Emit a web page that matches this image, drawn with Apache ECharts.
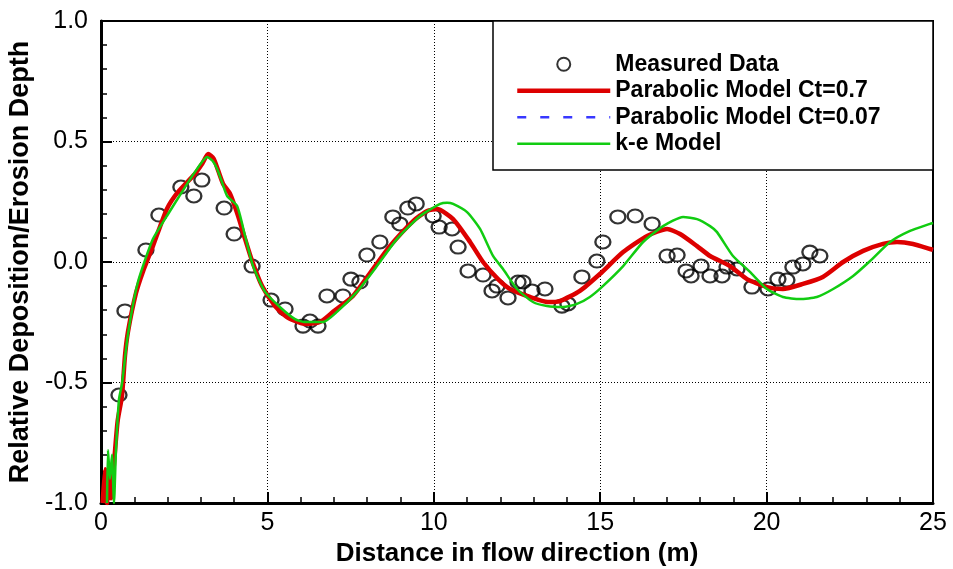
<!DOCTYPE html>
<html>
<head>
<meta charset="utf-8">
<script src="https://cdn.jsdelivr.net/npm/echarts@6/dist/echarts.min.js"></script>
<style>
  html, body { margin: 0; padding: 0; background: #fff; }
  #chart { width: 953px; height: 569px; }
</style>
</head>
<body>
<div id="chart"></div>
<script>
// Measured bed change along the flume: [distance (m), relative depth]
const measuredData = [
  [0.54, -0.552], [0.72, -0.203], [1.35, 0.050], [1.74, 0.195], [2.40, 0.311],
  [2.79, 0.274], [3.03, 0.340], [3.70, 0.224], [4.00, 0.116], [4.54, -0.017],
  [5.11, -0.158], [5.53, -0.195], [6.07, -0.266], [6.28, -0.245], [6.52, -0.266],
  [6.79, -0.141], [7.27, -0.141], [7.51, -0.071], [7.78, -0.083], [7.99, 0.029],
  [8.38, 0.083], [8.77, 0.187], [8.98, 0.158], [9.22, 0.224], [9.47, 0.241],
  [9.98, 0.191], [10.16, 0.145], [10.55, 0.137], [10.73, 0.062], [11.03, -0.037],
  [11.48, -0.054], [11.75, -0.120], [11.90, -0.100], [12.23, -0.149], [12.53, -0.083],
  [12.68, -0.083], [12.95, -0.120], [13.34, -0.112], [13.85, -0.183], [14.03, -0.174],
  [14.45, -0.062], [14.90, 0.004], [15.08, 0.083], [15.53, 0.187], [16.05, 0.191],
  [16.56, 0.158], [17.01, 0.025], [17.31, 0.029], [17.58, -0.037], [17.73, -0.058],
  [18.03, -0.017], [18.30, -0.058], [18.66, -0.058], [18.81, -0.021], [19.11, -0.029],
  [19.56, -0.104], [20.04, -0.112], [20.34, -0.071], [20.61, -0.075], [20.79, -0.021],
  [21.09, -0.008], [21.30, 0.041], [21.60, 0.025]
];

// Parabolic eddy-viscosity model, Ct = 0.7
const parabolic07 = [
  [0.05, -1.0], [0.12, -0.86], [0.18, -1.0], [0.24, -0.87], [0.30, -0.98],
  [0.40, -0.82], [0.50, -0.66], [0.63, -0.556], [0.72, -0.39], [0.81, -0.29],
  [1.05, -0.13], [1.26, -0.04], [1.56, 0.066], [1.98, 0.22], [2.31, 0.29],
  [2.82, 0.365], [3.05, 0.41], [3.22, 0.448], [3.38, 0.43], [3.52, 0.38],
  [3.67, 0.324], [3.88, 0.282], [4.12, 0.191], [4.33, 0.095], [4.54, 0.004],
  [4.84, -0.10], [5.23, -0.183], [5.55, -0.225], [5.83, -0.245], [6.10, -0.257],
  [6.58, -0.249], [6.97, -0.207], [7.57, -0.141], [8.17, -0.029], [8.68, 0.066],
  [9.38, 0.170], [9.80, 0.212], [10.10, 0.220], [10.58, 0.178], [11.09, 0.083],
  [11.48, 0.0], [11.93, -0.071], [12.29, -0.112], [12.89, -0.145], [13.43, -0.166],
  [13.79, -0.162], [14.39, -0.120], [14.99, -0.050], [15.69, 0.041], [16.41, 0.108],
  [17.01, 0.137], [17.40, 0.116], [17.91, 0.066], [18.30, 0.025], [18.90, -0.017],
  [19.41, -0.071], [20.01, -0.104], [20.49, -0.112], [21.09, -0.091], [21.69, -0.062],
  [22.30, 0.0], [22.90, 0.046], [23.50, 0.075], [23.92, 0.083], [24.40, 0.075],
  [24.91, 0.054], [25.00, 0.050]
];

// Parabolic eddy-viscosity model, Ct = 0.07 (practically on top of Ct = 0.7)
const parabolic007 = [
  [0.05, -1.0], [0.12, -0.87], [0.18, -1.0], [0.24, -0.88], [0.30, -0.98],
  [0.40, -0.83], [0.50, -0.67], [0.63, -0.556], [0.72, -0.39], [0.81, -0.29],
  [1.05, -0.13], [1.26, -0.04], [1.56, 0.066], [1.98, 0.22], [2.31, 0.29],
  [2.82, 0.365], [3.05, 0.41], [3.22, 0.446], [3.38, 0.43], [3.52, 0.38],
  [3.67, 0.324], [3.88, 0.282], [4.12, 0.191], [4.33, 0.095], [4.54, 0.004],
  [4.84, -0.10], [5.23, -0.183], [5.55, -0.225], [5.83, -0.245], [6.10, -0.257],
  [6.58, -0.249], [6.97, -0.207], [7.57, -0.141], [8.17, -0.029], [8.68, 0.066],
  [9.38, 0.170], [9.80, 0.212], [10.10, 0.220], [10.58, 0.178], [11.09, 0.083],
  [11.48, 0.0], [11.93, -0.071], [12.29, -0.112], [12.89, -0.145], [13.43, -0.166],
  [13.79, -0.162], [14.39, -0.120], [14.99, -0.050], [15.69, 0.041], [16.41, 0.108],
  [17.01, 0.137], [17.40, 0.116], [17.91, 0.066], [18.30, 0.025], [18.90, -0.017],
  [19.41, -0.071], [20.01, -0.104], [20.49, -0.112], [21.09, -0.091], [21.69, -0.062],
  [22.30, 0.0], [22.90, 0.046], [23.50, 0.075], [23.92, 0.083], [24.40, 0.075],
  [24.91, 0.054], [25.00, 0.050]
];

// k-epsilon turbulence model
const keModel = [
  [0.18, -1.0], [0.21, -0.78], [0.27, -0.90], [0.33, -0.80], [0.39, -1.0],
  [0.45, -0.78], [0.54, -0.57], [0.63, -0.506], [0.81, -0.30], [1.11, -0.083],
  [1.56, 0.095], [1.98, 0.191], [2.43, 0.29], [2.82, 0.373], [3.19, 0.436],
  [3.35, 0.42], [3.49, 0.386], [3.64, 0.33], [3.79, 0.274], [4.09, 0.232],
  [4.33, 0.108], [4.57, -0.017], [4.93, -0.124], [5.44, -0.195], [5.83, -0.237],
  [6.10, -0.249], [6.67, -0.249], [7.09, -0.207], [7.69, -0.124], [8.29, -0.017],
  [8.89, 0.095], [9.59, 0.191], [10.19, 0.241], [10.40, 0.246], [10.58, 0.241],
  [11.00, 0.207], [11.39, 0.137], [11.78, 0.025], [12.08, -0.029], [12.50, -0.112],
  [12.98, -0.166], [13.40, -0.183], [13.88, -0.187], [14.30, -0.174], [14.69, -0.145],
  [15.08, -0.100], [15.69, -0.017], [16.29, 0.083], [16.89, 0.149], [17.49, 0.187],
  [17.91, 0.178], [18.30, 0.149], [18.51, 0.124], [18.99, 0.025], [19.50, -0.041],
  [20.01, -0.112], [20.49, -0.145], [21.00, -0.154], [21.51, -0.145], [22.00, -0.112],
  [22.60, -0.058], [23.11, 0.004], [23.71, 0.083], [24.31, 0.129], [24.91, 0.158],
  [25.00, 0.162]
];

const xTicks = { min: 0, max: 25, step: 5 };
const yTicks = { min: -1, max: 1, step: 0.5 };
const seriesNames = ['Measured Data', 'Parabolic Model Ct=0.7', 'Parabolic Model Ct=0.07', 'k-e Model'];

const labelFont = "'Liberation Sans', Arial, sans-serif";

const chart = echarts.init(document.getElementById('chart'), null, { renderer: 'canvas' });

const gridLine = { show: true, lineStyle: { color: '#000', width: 1, type: [1, 2] } };
const hiddenDot = { opacity: 0 };

chart.setOption({
  animation: false,
  backgroundColor: '#fff',
  grid: {
    left: 101, right: 20, top: 21, bottom: 66,
    outerBoundsMode: 'none', containLabel: false,
    show: true, borderColor: '#000', borderWidth: 2, backgroundColor: 'transparent'
  },
  xAxis: {
    type: 'value',
    min: xTicks.min, max: xTicks.max, interval: xTicks.step,
    name: 'Distance in flow direction (m)',
    nameLocation: 'middle', nameGap: 30,
    nameTextStyle: { fontFamily: labelFont, fontSize: 26, fontWeight: 'bold', color: '#000' },
    axisLine: { show: true, onZero: false, lineStyle: { color: '#000', width: 3 } },
    axisTick: { show: true, inside: true, length: 11, lineStyle: { color: '#000', width: 2 } },
    minorTick: { show: true, splitNumber: 5, length: 6, lineStyle: { color: '#000', width: 1.5 } },
    splitLine: gridLine,
    axisLabel: { margin: 8, fontFamily: labelFont, fontSize: 25, color: '#000' }
  },
  yAxis: {
    type: 'value',
    min: yTicks.min, max: yTicks.max, interval: yTicks.step,
    name: 'Relative Deposition/Erosion Depth',
    nameLocation: 'middle', nameGap: 62, nameRotate: 90,
    nameTextStyle: { fontFamily: labelFont, fontSize: 27, fontWeight: 'bold', color: '#000' },
    axisLine: { show: true, onZero: false, lineStyle: { color: '#000', width: 3 } },
    axisTick: { show: true, inside: true, length: 11, lineStyle: { color: '#000', width: 2 } },
    minorTick: { show: true, splitNumber: 5, length: 6, lineStyle: { color: '#000', width: 1.5 } },
    splitLine: gridLine,
    axisLabel: {
      margin: 13, fontFamily: labelFont, fontSize: 25, color: '#000',
      formatter: v => v.toFixed(1)
    }
  },
  graphic: [{
    type: 'rect', z: 50,
    shape: { x: 493, y: 21, width: 440, height: 149 },
    style: { fill: '#fff', stroke: '#000', lineWidth: 1.5 }
  }],
  legend: {
    z: 100,
    orient: 'vertical',
    left: 515, top: 52,
    padding: 0,
    itemWidth: 93, itemHeight: 13, itemGap: 2,
    data: [
      { name: seriesNames[0] },
      { name: seriesNames[1], itemStyle: hiddenDot, lineStyle: { width: 4.5 } },
      { name: seriesNames[2], itemStyle: hiddenDot, lineStyle: { width: 2.5, type: [9, 14] } },
      { name: seriesNames[3], itemStyle: hiddenDot, lineStyle: { width: 2.5 } }
    ],
    textStyle: { fontFamily: labelFont, fontSize: 23, lineHeight: 24.5, fontWeight: 'bold', color: '#000' }
  },
  series: [
    {
      name: seriesNames[0], type: 'scatter', data: measuredData,
      symbol: 'circle', symbolSize: [15, 13], z: 3,
      itemStyle: { color: 'transparent', borderColor: '#000', borderWidth: 2.2 }
    },
    {
      name: seriesNames[2], type: 'line', data: parabolic007,
      symbol: 'none', smooth: 0.2, z: 4, clip: true,
      itemStyle: { color: '#3838ff' },
      lineStyle: { color: '#3838ff', width: 2.5, type: [10, 13] }
    },
    {
      name: seriesNames[1], type: 'line', data: parabolic07,
      symbol: 'none', smooth: 0.2, z: 5, clip: true,
      itemStyle: { color: '#dd0000' },
      lineStyle: { color: '#dd0000', width: 4.5 }
    },
    {
      name: seriesNames[3], type: 'line', data: keModel,
      symbol: 'none', smooth: 0.2, z: 6, clip: true,
      itemStyle: { color: '#11cc11' },
      lineStyle: { color: '#11cc11', width: 2.5 }
    }
  ]
});
</script>
</body>
</html>
